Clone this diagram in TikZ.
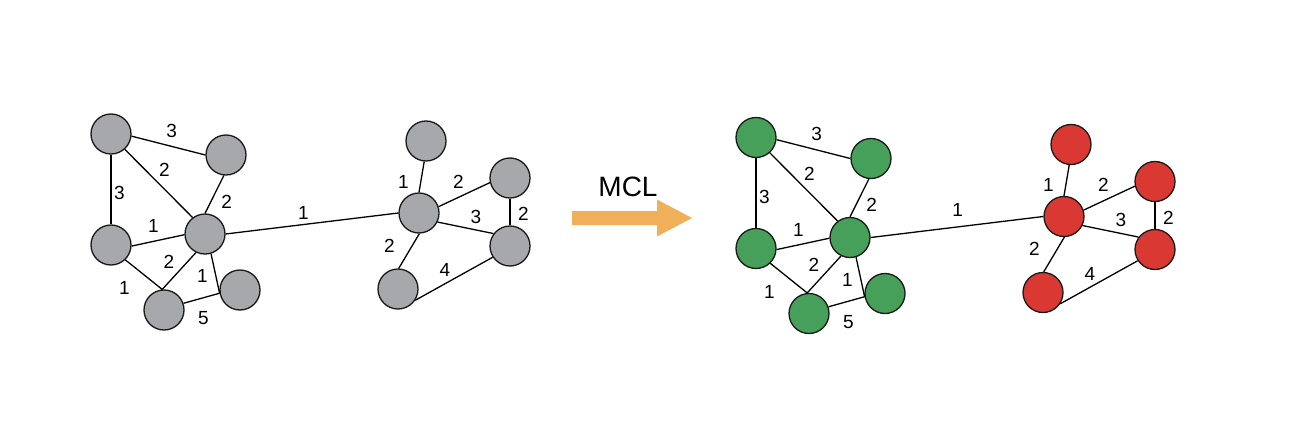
\documentclass[tikz,border=0pt]{standalone}
\usepackage{fontspec}
\setmainfont{Liberation Sans}

\definecolor{vgray}{HTML}{A7A8AC}
\definecolor{vgreen}{HTML}{46A05A}
\definecolor{vred}{HTML}{DA3832}
\definecolor{mclorange}{HTML}{F0B05A}

\tikzset{
  vertex/.style={draw=black!90,line width=1.3pt,circle,minimum size=40pt,inner sep=0pt},
  link/.style={line width=1.3pt},
  lbl/.style={font=\fontsize{19}{19}\selectfont,inner sep=0pt},
}

\begin{document}
\begin{tikzpicture}[x=1pt,y=-1pt]
\useasboundingbox (0,0) rectangle (1290,428);

% input graph
\node [vertex,fill=vgray] (a1) at (111,134) {};
\node [vertex,fill=vgray] (a2) at (226,155) {};
\node [vertex,fill=vgray] (a3) at (111,245) {};
\node [vertex,fill=vgray] (a4) at (205,234) {};
\node [vertex,fill=vgray] (a5) at (164,310) {};
\node [vertex,fill=vgray] (a6) at (240,290) {};
\node [vertex,fill=vgray] (b1) at (426,141) {};
\node [vertex,fill=vgray] (b2) at (419,213) {};
\node [vertex,fill=vgray] (b3) at (510,178) {};
\node [vertex,fill=vgray] (b4) at (510,246) {};
\node [vertex,fill=vgray] (b5) at (398,289) {};

\draw [link] (a1.-6)   -- (a2.180) node [lbl] at (171.7,130.7) {3};
\draw [link] (a1.-90)  -- (a3.90)  node [lbl] at (119.3,193.3) {3};
\draw [link] (a1.-48)  -- (a4.127) node [lbl] at (164.3,170)   {2};
\draw [link] (a2.-96)  -- (a4.90)  node [lbl] at (226.7,201.7) {2};
\draw [link] (a3.-3)   -- (a4.182) node [lbl] at (153.3,226)   {1};
\draw [link] (a3.-46)  -- (a5.95)  node [lbl] at (124.3,288.3) {1};
\draw [link] (a4.-116) -- (a5.95)  node [lbl] at (169,261.7)   {2};
\draw [link] (a4.-73)  -- (a6.189) node [lbl] at (202.3,276)   {1};
\draw [link] (a5.19)   -- (a6.189) node [lbl] at (203.3,318.3) {5};
\draw [link] (a4.0)    -- (b2.180) node [lbl] at (303.3,213.3) {1};
\draw [link] (b1.-95)  -- (b2.90)  node [lbl] at (403.3,181.7) {1};
\draw [link] (b2.18)   -- (b3.193) node [lbl] at (458.3,181.7) {2};
\draw [link] (b2.-26)  -- (b4.143) node [lbl] at (476,216.7)   {3};
\draw [link] (b3.-90)  -- (b4.90)  node [lbl] at (523.3,214)   {2};
\draw [link] (b2.-89)  -- (b5.88)  node [lbl] at (389.3,245.7) {2};
\draw [link] (b5.-33)  -- (b4.213) node [lbl] at (445,270)     {4};

% clustering step
\node [font=\fontsize{28}{28}\selectfont] (mcl) at (628,187) {MCL};
\fill [mclorange] (572,211) -- (657,211) -- (657,199.5) -- (692,218)
    -- (657,236.5) -- (657,225) -- (572,225) -- cycle;

% clustered graph
\begin{scope}[shift={(645,3.5)}]
\node [vertex,fill=vgreen] (c1) at (111,134) {};
\node [vertex,fill=vgreen] (c2) at (226,155) {};
\node [vertex,fill=vgreen] (c3) at (111,245) {};
\node [vertex,fill=vgreen] (c4) at (205,234) {};
\node [vertex,fill=vgreen] (c5) at (164,310) {};
\node [vertex,fill=vgreen] (c6) at (240,290) {};
\node [vertex,fill=vred]   (d1) at (426,141) {};
\node [vertex,fill=vred]   (d2) at (419,213) {};
\node [vertex,fill=vred]   (d3) at (510,178) {};
\node [vertex,fill=vred]   (d4) at (510,246) {};
\node [vertex,fill=vred]   (d5) at (398,289) {};

\draw [link] (c1.-6)   -- (c2.180) node [lbl] at (171.7,130.7) {3};
\draw [link] (c1.-90)  -- (c3.90)  node [lbl] at (119.3,193.3) {3};
\draw [link] (c1.-48)  -- (c4.127) node [lbl] at (164.3,170)   {2};
\draw [link] (c2.-96)  -- (c4.90)  node [lbl] at (226.7,201.7) {2};
\draw [link] (c3.-3)   -- (c4.182) node [lbl] at (153.3,226)   {1};
\draw [link] (c3.-46)  -- (c5.95)  node [lbl] at (124.3,288.3) {1};
\draw [link] (c4.-116) -- (c5.95)  node [lbl] at (169,261.7)   {2};
\draw [link] (c4.-73)  -- (c6.189) node [lbl] at (202.3,276)   {1};
\draw [link] (c5.19)   -- (c6.189) node [lbl] at (203.3,318.3) {5};
\draw [link] (c4.0)    -- (d2.180) node [lbl] at (312.7,206.5) {1};
\draw [link] (d1.-95)  -- (d2.90)  node [lbl] at (403.3,181.7) {1};
\draw [link] (d2.18)   -- (d3.193) node [lbl] at (458.3,181.7) {2};
\draw [link] (d2.-26)  -- (d4.143) node [lbl] at (476,216.7)   {3};
\draw [link] (d3.-90)  -- (d4.90)  node [lbl] at (523.3,214)   {2};
\draw [link] (d2.-89)  -- (d5.88)  node [lbl] at (389.3,245.7) {2};
\draw [link] (d5.-33)  -- (d4.213) node [lbl] at (445,270)     {4};
\end{scope}
\end{tikzpicture}
\end{document}
